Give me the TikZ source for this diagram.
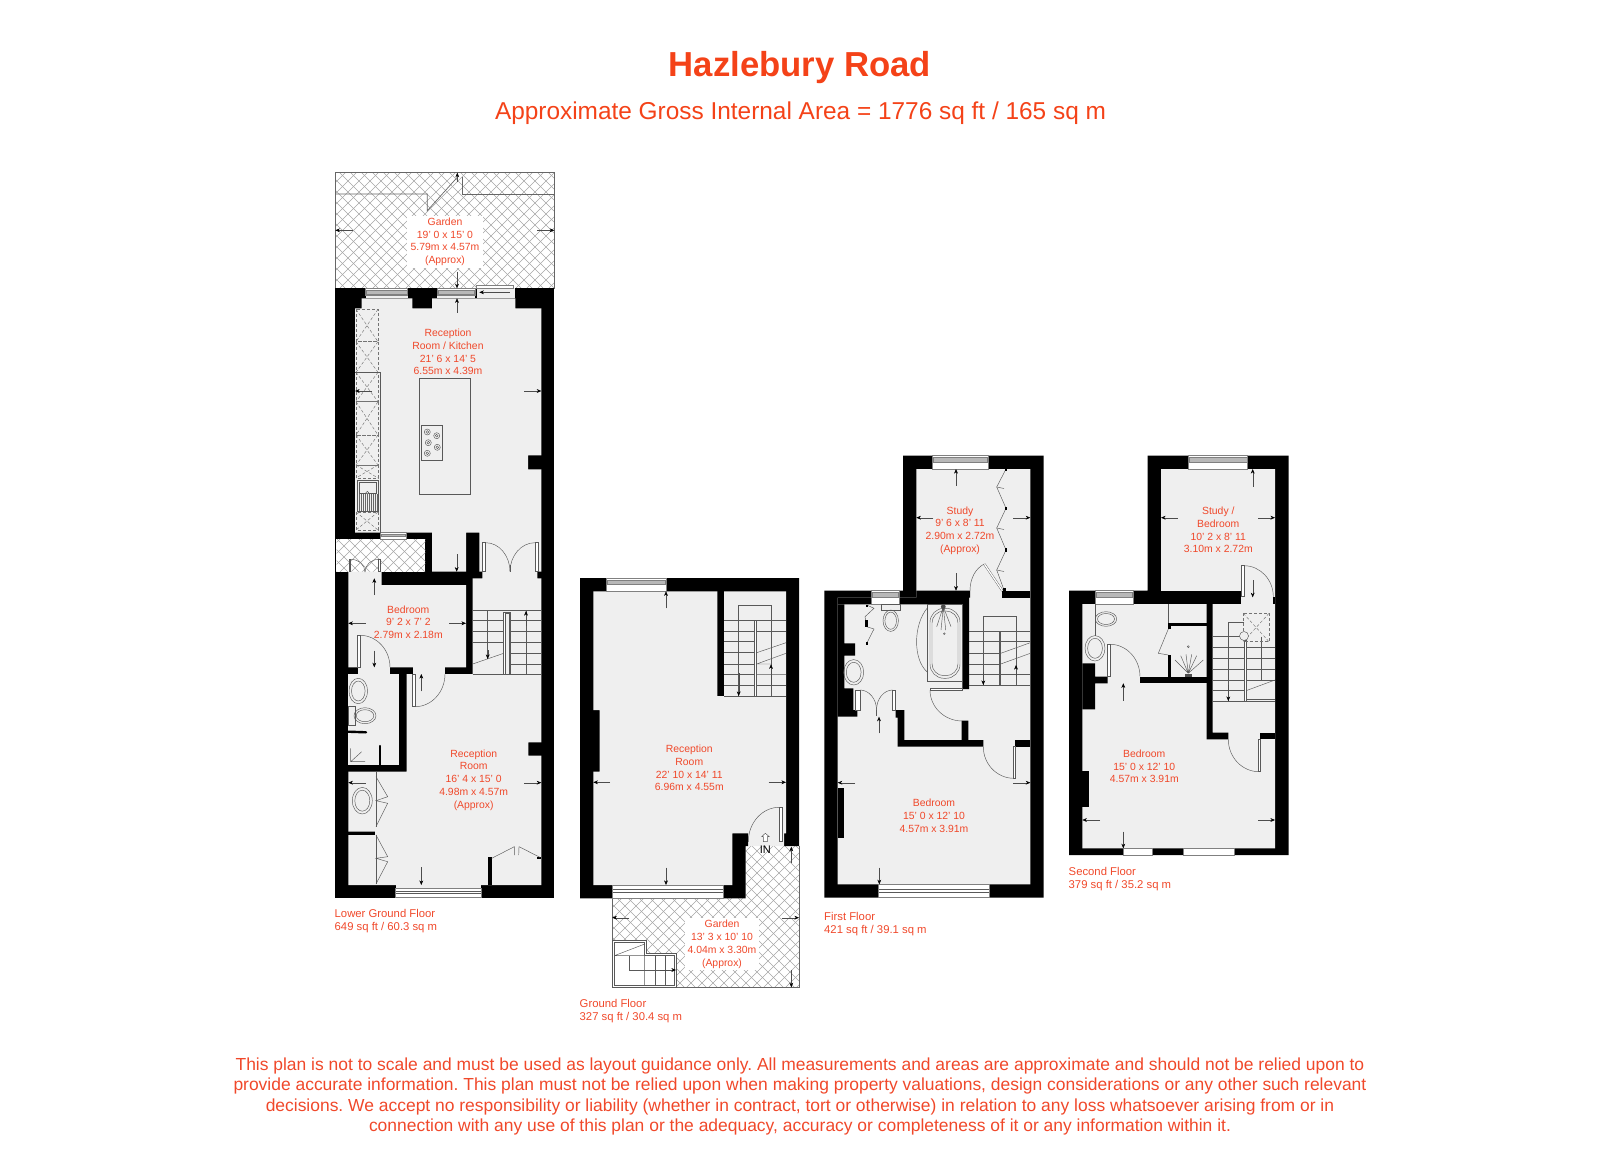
\documentclass[tikz,border=0pt]{standalone}
\usepackage{fontspec}
\setmainfont{Liberation Sans}
\usetikzlibrary{arrows.meta}
\definecolor{planred}{HTML}{F0482A}
\definecolor{titlered}{HTML}{F44218}
\definecolor{floorgrey}{HTML}{EFEFEF}
\tikzset{
  wall/.style={fill=black},
  floorarea/.style={fill=floorgrey},
  outline/.style={draw=black!60,line width=.7pt},
  fitting/.style={draw=black!65,line width=.45pt},
  leaf/.style={draw=black!65,fill=white,line width=.45pt},
  pane/.style={draw=black!50,fill=white,line width=.5pt},
  glass/.style={draw=black!50,fill=black!28,line width=.4pt},
  dimline/.style={draw=black!70,line width=.4pt,-{Stealth[length=4.6pt,width=3.8pt,black]}},
  latticeline/.style={draw=black!35,line width=.6pt},
  unitline/.style={draw=black!55,line width=.45pt,dash pattern=on 3pt off 2pt},
  roomlabel/.style={text=planred,align=center,font=\fontsize{10.4}{12.7}\selectfont,inner sep=0pt},
  floorlabel/.style={text=planred,align=left,anchor=north west,font=\fontsize{11.3}{13.6}\selectfont,inner sep=0pt},
}
\frenchspacing
\begin{document}
\begin{tikzpicture}[x=1pt,y=-1pt]
\useasboundingbox (0,0) rectangle (1600,1155);
\node[text=titlered,font=\bfseries\fontsize{34.7}{40}\selectfont,inner sep=0pt] (titlelabel) at (800,67.5) {Hazlebury Road};
\node[text=titlered,font=\fontsize{24.4}{28}\selectfont,inner sep=0pt] (arealabel) at (800.5,113) {Approximate Gross Internal Area = 1776 sq ft / 165 sq m};
\node[text=planred,align=center,font=\fontsize{17.45}{20.6}\selectfont,inner sep=0pt] (disclaimer) at (800,1096.5) {This plan is not to scale and must be used as layout guidance only. All measurements and areas are approximate and should not be relied upon to\\provide accurate information. This plan must not be relied upon when making property valuations, design considerations or any other such relevant\\decisions. We accept no responsibility or liability (whether in contract, tort or otherwise) in relation to any loss whatsoever arising from or in\\connection with any use of this plan or the adequacy, accuracy or completeness of it or any information within it.};

% lower ground floor: garden
\begin{scope}
\clip (335.3,172.7) rectangle (554.3,288.3);
\foreach \d in {205,216,...,690} {
  \draw[latticeline] (\d,170) -- ++(130,130);
  \draw[latticeline] (\d,170) -- ++(-130,130);
}
\end{scope}
\draw[outline] (335.3,172.7) rectangle (554.3,288.3);
\draw[outline] (335.3,194) -- (427.3,194) -- (427.3,210.7) -- (457.3,177.3);
\draw[outline] (462.3,177.3) -- (462.3,194) -- (554.3,194);
% lower ground floor: walls and floor
\fill[wall] (335.3,288.3) rectangle (554.3,897.7);
\fill[white] (335.7,539.3) rectangle (425.3,571.7);
\begin{scope}
\clip (336.5,539.3) rectangle (425.3,571.7);
\foreach \d in {300,311,...,470} {
  \draw[latticeline] (\d,535) -- ++(40,40);
  \draw[latticeline] (\d,535) -- ++(-40,40);
}
\end{scope}
\fill[floorarea] (361.7,298.3) -- (412.3,298.3) -- (412.3,308.3) -- (432,308.3) -- (432,298.3) -- (515.3,298.3) -- (515.3,308.3) -- (541.3,308.3) -- (541.3,455.3) -- (528,455.3) -- (528,469.3) -- (541.3,469.3) -- (541.3,571.7) -- (537.3,571.7) -- (537.3,578.3) -- (541.3,578.3) -- (541.3,742.3) -- (528.3,742.3) -- (528.3,755.7) -- (541.3,755.7) -- (541.3,885) -- (348.3,885) -- (348.3,835) -- (375,835) -- (375,831.7) -- (348.3,831.7) -- (348.3,771.7) -- (406.7,771.7) -- (406.7,674) -- (472.7,674) -- (472.7,578.3) -- (482.3,578.3) -- (482.3,571.7) -- (479.3,571.7) -- (479.3,532.7) -- (466,532.7) -- (466,571.7) -- (432,571.7) -- (432,532.7) -- (355,532.7) -- (355,308.3) -- (361.7,308.3) -- cycle;
\fill[floorarea] (348.3,571.7) -- (381.7,571.7) -- (381.7,585) -- (466,585) -- (466,667.3) -- (348.3,667.3) -- cycle;
\fill[floorarea] (412.7,667.3) rectangle (445,674);
\fill[floorarea] (348.3,674) rectangle (399.3,765);
\fill[floorarea] (358.3,667.3) rectangle (390,674);
\fill[floorarea] (365.7,295) rectangle (407.7,298.3);
\fill[floorarea] (437,295) rectangle (475,298.3);
\fill[floorarea] (476.7,288.3) rectangle (515.3,298.3);
\fill[floorarea] (395.7,885) rectangle (481,888);
% lower ground floor: windows
\draw[pane] (365.7,288.3) rectangle (407.7,295);
\draw[glass] (366.5,290) rectangle (407,294);
\draw[pane] (437,288.3) rectangle (475,295);
\draw[glass] (437.8,290) rectangle (474.2,294);
\draw[pane] (476.7,285.7) rectangle (513.3,288.3);
\draw[pane] (380.7,532.7) rectangle (406,539.3);
\draw[glass] (381.5,534.5) rectangle (405.2,536.5);
\draw[pane] (395.7,888) rectangle (481,897.7);
\draw[fitting] (396.3,891) -- (480.5,891) (396.3,893.5) -- (480.5,893.5);
% lower ground floor: kitchen
\foreach \ya/\yb in {309.3/341.7,341.7/372.3,372.3/401.7,401.7/435,435/465,465/478,512/530} {
  \draw[unitline] (356,\ya) rectangle (378,\yb);
  \draw[unitline] (356,\ya) -- (378,\yb) (378,\ya) -- (356,\yb);
}
\draw[fitting] (355,372.3) -- (380.7,372.3) -- (380.7,532.7);
\draw[fitting] (419,378.3) rectangle (470.7,494.3);
\draw[fitting] (421.3,425.3) rectangle (442.7,460.7);
\foreach \hx/\hy in {427.3/432,436.7/435.7,428.3/442.7,437.3/447.3,427.3/453.3} {
  \draw[fitting] (\hx,\hy) circle[radius=3];
  \draw[fitting] (\hx,\hy) circle[radius=1.4];
}
\draw[fitting] (357.3,480) rectangle (378.3,511.7);
\draw[fitting] (359.5,482) rectangle (376,493.3);
\foreach \sx in {359,361,...,377} {
  \draw[draw=black!60,line width=.6pt] (\sx,494) -- (\sx,511);
}
\draw[fitting,fill=floorgrey] (367.3,492.7) circle[radius=1.4];
% lower ground floor: doors
\draw[leaf] (349.3,559.3) rectangle (350.7,571.7);
\draw[leaf] (378.7,559.3) rectangle (380.7,571.7);
\draw[fitting] (350.7,559.3) arc[start angle=270,end angle=360,x radius=14.3,y radius=12.7];
\draw[fitting] (378.7,559.3) arc[start angle=270,end angle=180,x radius=13.7,y radius=12.7];
\draw[leaf] (482.3,542.7) rectangle (485.7,571.7);
\draw[leaf] (535,542.7) rectangle (538.3,571.7);
\draw[fitting] (485.7,542.7) arc[start angle=270,end angle=360,x radius=24.3,y radius=29];
\draw[fitting] (535,542.7) arc[start angle=270,end angle=180,x radius=25,y radius=29];
\draw[fitting] (510,565) -- (510,571.7);
\draw[leaf] (357.7,635.3) rectangle (360,667.3);
\draw[fitting] (360,635.3) arc[start angle=270,end angle=360,x radius=30,y radius=32];
\draw[leaf] (412.7,674) rectangle (415,706.7);
\draw[fitting] (445,674) arc[start angle=0,end angle=90,x radius=30,y radius=32.7];
% lower ground floor: stairs
\draw[fitting] (472.7,610) -- (541.3,610);
\foreach \ty in {620.7,631.7,642.3} {
  \draw[fitting] (472.7,\ty) -- (503.7,\ty) (510.3,\ty) -- (541.3,\ty);
}
\foreach \ty in {653.3,664} {
  \draw[fitting] (510.3,\ty) -- (541.3,\ty);
}
\draw[fitting] (472.7,674) -- (541.3,674);
\draw[fitting] (472.7,664) -- (503.7,653.3);
\draw[leaf] (503.7,612.3) rectangle (510.3,674);
\draw[fitting,fill=floorgrey] (505.2,613.5) rectangle (508.8,674);
\draw[fitting] (487.7,610) -- (487.7,659);
\draw[fitting] (526,610) -- (526,674);
% lower ground floor: bathroom and wardrobes
\draw[fitting] (358.3,691) ellipse[x radius=9.3,y radius=12.7];
\draw[fitting] (358.3,691) ellipse[x radius=6.8,y radius=10];
\draw[fitting] (348.3,706.7) rectangle (355,725);
\draw[fitting] (365,715.7) ellipse[x radius=11,y radius=8];
\draw[fitting] (365,715.7) ellipse[x radius=8.8,y radius=6];
\draw[line width=2.4pt,line cap=round] (348.3,731.7) -- (366,732.3);
\draw[line width=2.4pt,line cap=round] (380,746) -- (380,765);
\draw[fitting] (350.7,748.3) -- (350.7,761.7) -- (365,761.7) (350.7,761.7) -- (361.7,751.7);
\draw[fitting] (376,771.7) -- (376,826.7);
\draw[fitting] (376,776.7) -- (387.7,796.7) -- (376,800.7) -- (387.7,803.3) -- (376,826.7);
\draw[fitting] (376,835) -- (376,884);
\draw[fitting] (376,835) -- (387.7,856.7) -- (376,858.3) -- (387.7,861.7) -- (376,884);
\draw[fitting] (362.3,800.7) ellipse[x radius=10,y radius=13.3];
\draw[fitting] (362.3,800.7) ellipse[x radius=7.5,y radius=10.5];
\fill[wall] (488.3,856.7) rectangle (491.7,885);
\fill[wall] (537.3,856.7) rectangle (541.3,858.7);
\draw[fitting] (491.7,858.3) -- (514.3,846.7) -- (514.3,855);
\draw[fitting] (518.7,855) -- (519,846.7) -- (540,857.3);
% lower ground floor: dimension arrows
\draw[dimline] (352.7,230.3) -- (335.3,230.3);
\draw[dimline] (537.3,230.3) -- (554.3,230.3);
\draw[dimline] (457.3,181.7) -- (457.3,172.7);
\draw[dimline] (457,271.7) -- (457,288.3);
\draw[dimline] (457,312.7) -- (457,298.3);
\draw[dimline] (372,391) -- (355,391);
\draw[dimline] (524,391) -- (541.3,391);
\draw[dimline,{Stealth[length=4.6pt,width=3.8pt,black]}-] (479.3,292.3) -- (510,292.3);
\draw[dimline] (456.7,554.3) -- (456.7,571.7);
\draw[dimline] (374.3,595) -- (374.3,578.3);
\draw[dimline] (365.7,623.3) -- (348.3,623.3);
\draw[dimline] (449,623.3) -- (466,623.3);
\draw[dimline] (374.3,650.7) -- (374.3,667.3);
\draw[dimline] (421.3,691.3) -- (421.3,674);
\draw[dimline] (487.7,650) -- (487.7,659);
\draw[dimline] (526,626) -- (526,611);
\draw[dimline] (365.7,782.7) -- (348.3,782.7);
\draw[dimline] (524,782.7) -- (541.3,782.7);
\draw[dimline] (421.3,867.3) -- (421.3,885);
% lower ground floor: labels
\node[roomlabel,fill=white,inner xsep=4pt,inner ysep=2pt] (gardenrear) at (445,241.7) {Garden\\19' 0 x 15' 0\\5.79m x 4.57m\\(Approx)};
\node[roomlabel] (kitchen) at (448,352) {Reception\\Room / Kitchen\\21' 6 x 14' 5\\6.55m x 4.39m};
\node[roomlabel] (bedroomlower) at (408.3,622) {Bedroom\\9' 2 x 7' 2\\2.79m x 2.18m};
\node[roomlabel] (receptionlower) at (473.7,780) {Reception\\Room\\16' 4 x 15' 0\\4.98m x 4.57m\\(Approx)};
\node[floorlabel] (lowerfloor) at (334.5,909) {Lower Ground Floor\\649 sq ft / 60.3 sq m};

% ground floor: garden
\begin{scope}
\clip (612.3,898.3) -- (745.7,898.3) -- (745.7,846) -- (799,846) -- (799,987.3) -- (612.3,987.3) -- cycle;
\foreach \d in {460,471,...,950} {
  \draw[latticeline] (\d,840) -- ++(150,150);
  \draw[latticeline] (\d,840) -- ++(-150,150);
}
\end{scope}
\draw[outline] (612.3,898.3) -- (612.3,987.3) -- (799,987.3) -- (799,846);
% ground floor: walls and floor
\fill[wall] (580,578) -- (799,578) -- (799,846) -- (784,846) -- (784,833.3) -- (748.3,833.3) -- (748.3,846) -- (745.7,846) -- (745.7,898.3) -- (580,898.3) -- cycle;
\fill[floorarea] (593.3,591.3) -- (717.3,591.3) -- (717.3,696) -- (724,696) -- (724,591.3) -- (786,591.3) -- (786,833.3) -- (784,833.3) -- (784,846) -- (748.3,846) -- (748.3,833.3) -- (732.3,833.3) -- (732.3,885) -- (593.3,885) -- (593.3,771.7) -- (599.7,771.7) -- (599.7,710) -- (593.3,710) -- cycle;
\draw[pane] (606,578) rectangle (666,591.3);
\draw[glass] (606.8,580) rectangle (665.2,584);
\draw[pane] (612.3,885) rectangle (723.3,898.3);
\draw[fitting] (613,889) -- (722.6,889) (613,892.5) -- (722.6,892.5);
% ground floor: stairs
\draw[fitting] (738.7,620) -- (738.7,605.3) -- (771,605.3) -- (771,696);
\draw[fitting] (738.7,620) -- (738.7,696);
\foreach \ty in {620,631,685,696} {
  \draw[fitting] (724,\ty) -- (786,\ty);
}
\foreach \ty in {641.7,652.7,664,674.3} {
  \draw[fitting] (724,\ty) -- (754,\ty);
}
\draw[fitting] (756.7,664) -- (786,653.3) (756.7,652.7) -- (786,642.7) (756.7,664) -- (771,664) (756.7,674.3) -- (786,674.3);
\draw[leaf] (754,620) rectangle (756.7,696);
% ground floor: door and entrance
\draw[leaf] (779.3,807.3) rectangle (782,841.7);
\draw[fitting] (779.3,807.3) arc[start angle=270,end angle=180,x radius=31,y radius=34.5];
\draw[fitting,fill=white] (761.7,836.7) -- (765.3,833.3) -- (769.3,836.7) -- (767.3,836.7) -- (767.3,841.7) -- (763.3,841.7) -- (763.3,836.7) -- cycle;
\node[font=\fontsize{11}{13}\selectfont,inner sep=0pt] (entrance) at (765.3,849.3) {IN};
% ground floor: outside stairs
\draw[leaf] (612.3,940.7) -- (646.7,940.7) -- (646.7,953.3) -- (676.7,953.3) -- (676.7,987.3) -- (612.3,987.3) -- cycle;
\draw[fitting] (614.3,942.7) -- (644.7,942.7) -- (644.7,955.7) -- (674.7,955.7) -- (674.7,985.7) -- (614.3,985.7) -- cycle;
\draw[fitting] (614.3,955.7) -- (644.7,944) (614.3,955.7) -- (644.7,955.7) -- (644.7,985.7);
\draw[fitting] (655.3,955.7) -- (655.3,985.7) (665.7,955.7) -- (665.7,985.7);
\draw[fitting] (629.7,955.7) -- (629.7,970) -- (668,970);
% ground floor: dimension arrows
\draw[dimline] (666,608.3) -- (666,591.3);
\draw[dimline] (666,867.7) -- (666,885);
\draw[dimline] (610,782.3) -- (593.3,782.3);
\draw[dimline] (768.7,782.3) -- (786,782.3);
\draw[dimline] (738.7,673.3) -- (738.7,696);
\draw[dimline] (771,685) -- (771,664.3);
\draw[dimline] (629.3,917.7) -- (612.3,917.7);
\draw[dimline] (781.7,917.7) -- (799,917.7);
\draw[dimline] (791.3,970) -- (791.3,987.3);
\draw[dimline] (791.3,863.3) -- (791.3,846.7);
\draw[dimline] (660,970) -- (676,970);
% ground floor: labels
\node[roomlabel] (receptionground) at (689.3,768) {Reception\\Room\\22' 10 x 14' 11\\6.96m x 4.55m};
\node[roomlabel,fill=white,inner xsep=3pt,inner ysep=2pt] (gardenfront) at (722,944.3) {Garden\\13' 3 x 10' 10\\4.04m x 3.30m\\(Approx)};
\node[floorlabel] (groundfloor) at (579.5,999) {Ground Floor\\327 sq ft / 30.4 sq m};

% first floor: walls and floor
\fill[wall] (903,455.7) -- (1043.7,455.7) -- (1043.7,897.7) -- (824.3,897.7) -- (824.3,590.7) -- (903,590.7) -- cycle;
\fill[floorarea] (916.3,469) -- (1030.3,469) -- (1030.3,884.3) -- (837.7,884.3) -- (837.7,597.7) -- (916.3,597.7) -- cycle;
\fill[wall] (916.3,590.7) -- (970,590.7) -- (970,597.7) -- (969,597.7) -- (969,689) -- (962.3,689) -- (962.3,604.3) -- (837.7,604.3) -- (837.7,597.7) -- (916.3,597.7) -- cycle;
\fill[wall] (837.7,604.3) -- (844.3,604.3) -- (844.3,643.3) -- (855,643.3) -- (855,655.7) -- (844.3,655.7) -- (844.3,688.3) -- (853.3,688.3) -- (853.3,710) -- (857.3,710) -- (857.3,716.7) -- (837.7,716.7) -- cycle;
\fill[wall] (895.7,710) -- (904.3,710) -- (904.3,740) -- (961.7,740) -- (961.7,720.7) -- (968.3,720.7) -- (968.3,740) -- (983.3,740) -- (983.3,746.7) -- (897.7,746.7) -- (897.7,717.7) -- (895.7,717.7) -- cycle;
\fill[wall] (1015,740) rectangle (1030.3,746.7);
\fill[wall] (1002.3,590.7) rectangle (1030.3,597.7);
\fill[wall] (837.7,788.3) rectangle (844.3,837.7);
\draw[pane] (932.7,455.7) rectangle (988.3,469);
\draw[glass] (933.5,457.5) rectangle (987.5,462);
\draw[pane] (871.7,590.7) rectangle (899.3,604.3);
\draw[glass] (872.5,592.5) rectangle (898.5,597);
\draw[pane] (878.3,884.3) rectangle (989.3,897.7);
\draw[fitting] (879,889) -- (988.6,889) (879,892.5) -- (988.6,892.5);
% first floor: study wardrobes and door
\draw[fitting] (1006,469) -- (996.7,487) -- (1006,508.3) -- (996.7,528) -- (1006,550) -- (996.7,570) -- (1004,590);
\draw[fitting] (996.7,487) -- (1004,488.5) (996.7,528) -- (1004,529.5) (996.7,570) -- (1004,571.5);
\fill[wall] (1004.8,468) rectangle (1007.2,470.5);
\fill[wall] (1004.8,506.5) rectangle (1007.2,510);
\fill[wall] (1004.8,548) rectangle (1007.2,552);
\fill[wall] (1002.5,588) rectangle (1005.5,591);
\draw[draw=black!65,line width=.4pt,double=white,double distance=1.3pt] (984.3,564) -- (1002.3,590.7);
\draw[fitting] (970,590.7) .. controls (970,578) and (976,568) .. (984.3,564);
% first floor: bathroom
\draw[fitting] (881.7,604.3) rectangle (900,610.7);
\draw[fitting] (890.7,620.7) ellipse[x radius=7.7,y radius=10.7];
\draw[fitting] (890.7,620.7) ellipse[x radius=5.8,y radius=8.6];
\draw[fitting] (866.7,605) -- (874,608.3) -- (865,616.7) -- (866.7,626.7) -- (874,629) -- (866.7,643.3);
\fill[wall] (865.5,604.5) rectangle (868,607);
\fill[wall] (865,620) rectangle (868,627);
\fill[wall] (865.5,641.5) rectangle (868,644.5);
\draw[fitting] (853.7,672.3) ellipse[x radius=10,y radius=12.7];
\draw[fitting] (853.7,672.3) ellipse[x radius=7.4,y radius=10];
\draw[fitting] (927.3,604.3) rectangle (962.3,681);
\draw[fitting,rounded corners=14pt] (930,608.3) rectangle (960,678.3);
\draw[fitting,rounded corners=12pt] (932,611) rectangle (958,675.7);
\draw[fitting] (927.3,608) .. controls (913,625) and (913,660) .. (927.3,672);
\draw[fitting] (943.3,606.7) -- (936.7,626.7) (943.3,606.7) -- (941,630) (943.3,606.7) -- (945.7,630) (943.3,606.7) -- (951,626.7);
\fill[black!70] (943.3,606.7) circle[radius=2.4];
\draw[fitting] (944.3,633.7) circle[radius=.9];
\draw[leaf] (855.7,690) rectangle (860,710);
\draw[leaf] (892.7,690) rectangle (895.7,710);
\draw[fitting] (860,690) arc[start angle=270,end angle=360,x radius=16.5,y radius=20];
\draw[fitting] (892.7,690) arc[start angle=270,end angle=180,x radius=16.2,y radius=20];
\draw[fitting] (876.5,710) -- (876.5,716);
\draw[leaf] (930,688.3) rectangle (962.3,690);
\draw[fitting] (930,690) arc[start angle=180,end angle=90,x radius=32.3,y radius=31];
\draw[leaf] (1013.7,746.7) rectangle (1015.7,778.3);
\draw[fitting] (983.3,746.7) arc[start angle=180,end angle=90,x radius=30.5,y radius=31.6];
% first floor: stairs
\draw[fitting] (983.3,631.7) -- (983.3,616.7) -- (1016,616.7) -- (1016,685);
\draw[fitting] (983.3,631.7) -- (983.3,685);
\foreach \ty in {631.7,641.7,674.3,685} {
  \draw[fitting] (969,\ty) -- (1030.3,\ty);
}
\foreach \ty in {653.3,664} {
  \draw[fitting] (969,\ty) -- (999,\ty);
}
\draw[fitting] (1000.7,653.3) -- (1030.3,642.7) (1000.7,664) -- (1030.3,653.3);
\draw[leaf] (999,631.7) rectangle (1000.7,685);
% first floor: dimension arrows
\draw[dimline] (956,485.7) -- (956,469);
\draw[dimline] (956,573.3) -- (956,590.7);
\draw[dimline] (933.3,517.7) -- (916.3,517.7);
\draw[dimline] (1013,517.7) -- (1030.3,517.7);
\draw[dimline] (983.3,672) -- (983.3,685);
\draw[dimline] (1016,676) -- (1016,665);
\draw[dimline] (879,733.3) -- (879,716.7);
\draw[dimline] (855,782.7) -- (837.7,782.7);
\draw[dimline] (1013,782.7) -- (1030.3,782.7);
\draw[dimline] (879.3,867.7) -- (879.3,884.3);
% first floor: labels
\node[roomlabel] (study) at (960,530.5) {Study\\9' 6 x 8' 11\\2.90m x 2.72m\\(Approx)};
\node[roomlabel] (bedroomfirst) at (934,815.7) {Bedroom\\15' 0 x 12' 10\\4.57m x 3.91m};
\node[floorlabel] (firstfloor) at (824,912) {First Floor\\421 sq ft / 39.1 sq m};

% second floor: walls and floor
\fill[wall] (1147.7,455.7) -- (1288.7,455.7) -- (1288.7,855) -- (1069,855) -- (1069,590.7) -- (1147.7,590.7) -- cycle;
\fill[floorarea] (1161,469) -- (1275,469) -- (1275,848.3) -- (1082.3,848.3) -- (1082.3,604) -- (1161,604) -- cycle;
\fill[wall] (1161,590.7) rectangle (1241,604);
\fill[wall] (1273.3,597.3) rectangle (1275,604);
\fill[wall] (1082.3,663.3) -- (1095,663.3) -- (1095,676.7) -- (1107.7,676.7) -- (1107.7,683.3) -- (1095,683.3) -- (1095,709.3) -- (1082.3,709.3) -- cycle;
\fill[wall] (1082.3,771) rectangle (1089,806.7);
\fill[wall] (1206.7,604) -- (1212.7,604) -- (1212.7,732.7) -- (1228.3,732.7) -- (1228.3,739.3) -- (1206.7,739.3) -- cycle;
\fill[wall] (1140,676.7) rectangle (1206.7,683.3);
\fill[wall] (1260,732.7) rectangle (1275,739.3);
\fill[wall] (1168.3,623.3) rectangle (1206.7,625.7);
\fill[wall] (1168.3,625.7) rectangle (1170.7,629);
\fill[wall] (1168.3,655) rectangle (1170.7,676.7);
\draw[pane] (1188.3,455.7) rectangle (1247.7,469);
\draw[glass] (1189.1,457.5) rectangle (1246.9,462);
\draw[pane] (1095,590.7) rectangle (1133.3,604);
\draw[glass] (1095.8,592.5) rectangle (1132.5,597);
\draw[pane] (1123.3,848.3) rectangle (1152.7,855);
\draw[pane] (1183.3,848.3) rectangle (1234.3,855);
% second floor: bathroom
\draw[fitting] (1168.3,604) -- (1168.3,623.3);
\draw[fitting] (1168.3,629) -- (1158.3,653.3) -- (1168.3,655);
\draw[fitting] (1095,604) -- (1095,636);
\draw[fitting] (1106,619) ellipse[x radius=10.7,y radius=7.3];
\draw[fitting] (1106,619) ellipse[x radius=8.5,y radius=5.5];
\draw[fitting] (1095,648.3) ellipse[x radius=10,y radius=12.7];
\draw[fitting] (1095,648.3) ellipse[x radius=7.4,y radius=10];
\draw[fitting] (1188.3,673.3) -- (1175,660) (1188.3,673.3) -- (1180.7,655.7) (1188.3,673.3) -- (1186,654.3) (1188.3,673.3) -- (1191.7,654.3) (1188.3,673.3) -- (1196.7,655.7) (1188.3,673.3) -- (1203.3,660);
\fill[black!70] (1185,674) rectangle (1191.5,676.7);
\draw[fitting] (1188.3,646.7) circle[radius=1];
\draw[leaf] (1107.7,644.3) rectangle (1110,676.7);
\draw[fitting] (1110,644.3) arc[start angle=270,end angle=360,x radius=30,y radius=32.4];
\draw[leaf] (1241.7,565.7) rectangle (1244,596.7);
\draw[fitting] (1244,565.7) arc[start angle=270,end angle=360,x radius=29.3,y radius=31];
\draw[leaf] (1258.7,739.3) rectangle (1260.7,771.7);
\draw[fitting] (1228.3,739.3) arc[start angle=180,end angle=90,x radius=30.7,y radius=32.4];
% second floor: stairs
\draw[fitting] (1244,622.3) -- (1228.3,622.3) -- (1228.3,701);
\draw[fitting] (1261,636.7) -- (1261,680);
\foreach \ty in {636.7,647.3,658.3,669,680,690.7} {
  \draw[fitting] (1212.7,\ty) -- (1244,\ty);
}
\foreach \ty in {647.3,658.3,669,680} {
  \draw[fitting] (1246,\ty) -- (1275,\ty);
}
\draw[fitting] (1212.7,701) -- (1275,701) (1246,699) -- (1275,699);
\draw[fitting] (1246,690.7) -- (1275,680);
\draw[leaf] (1244,640) rectangle (1246,701);
\draw[unitline] (1243.3,613.3) rectangle (1269,641.7);
\draw[unitline] (1243.3,613.3) -- (1269,641.7) (1269,613.3) -- (1243.3,641.7);
\draw[fitting,fill=floorgrey] (1244,636) circle[radius=4.5];
% second floor: dimension arrows
\draw[dimline] (1177.7,517.7) -- (1161,517.7);
\draw[dimline] (1258.3,517.7) -- (1275,517.7);
\draw[dimline] (1252.7,486.7) -- (1252.7,469);
\draw[dimline] (1252.7,580) -- (1252.7,597.3);
\draw[dimline] (1228.3,685) -- (1228.3,701);
\draw[dimline] (1123.3,700.7) -- (1123.3,683.3);
\draw[dimline] (1123.3,831.7) -- (1123.3,848.3);
\draw[dimline] (1100,820) -- (1082.3,820);
\draw[dimline] (1258.3,820) -- (1275,820);
% second floor: labels
\node[roomlabel] (studybedroom) at (1218.3,530) {Study /\\Bedroom\\10' 2 x 8' 11\\3.10m x 2.72m};
\node[roomlabel] (bedroomsecond) at (1144.3,766.5) {Bedroom\\15' 0 x 12' 10\\4.57m x 3.91m};
\node[floorlabel] (secondfloor) at (1068.5,867) {Second Floor\\379 sq ft / 35.2 sq m};
\end{tikzpicture}
\end{document}
